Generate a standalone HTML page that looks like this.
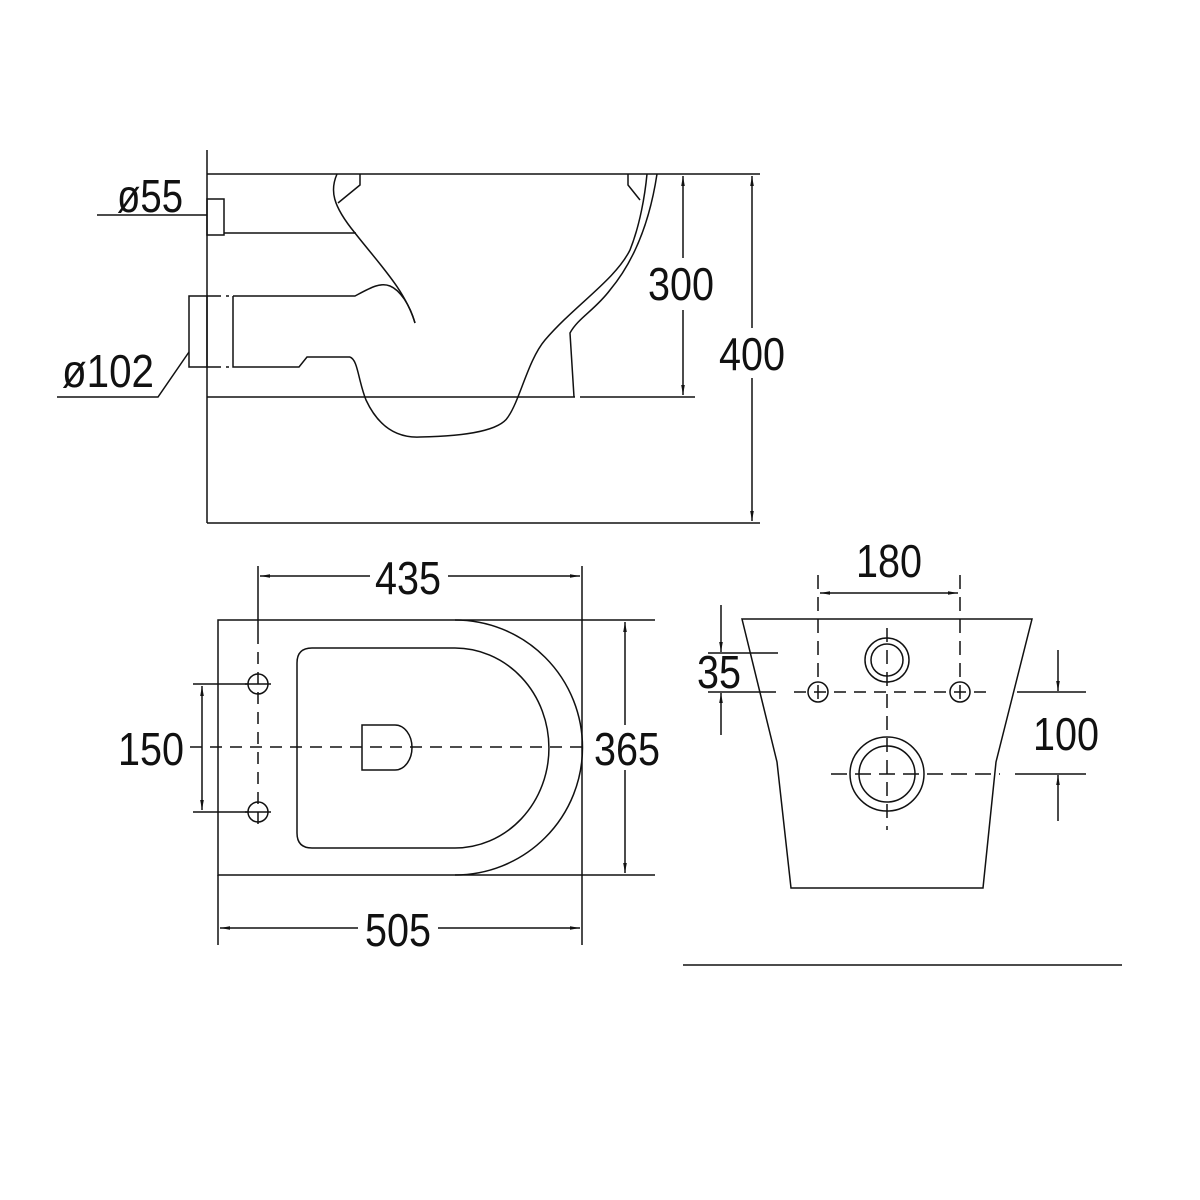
<!DOCTYPE html>
<html><head><style>html,body{margin:0;padding:0;background:#fff}svg{display:block}</style></head><body>
<svg width="1200" height="1200" viewBox="0 0 1200 1200" xmlns="http://www.w3.org/2000/svg">
<defs><marker id="a" viewBox="0 0 10 10" refX="10" refY="5" markerWidth="10" markerHeight="10" orient="auto-start-reverse" markerUnits="userSpaceOnUse"><path d="M0,3.2 L10,5 L0,6.8 Z" fill="#111"/></marker></defs>
<g fill="none" stroke="#111" stroke-width="1.5">
<line x1="207" y1="150" x2="207" y2="523"/>
<line x1="207" y1="174" x2="760" y2="174"/>
<line x1="207" y1="523" x2="760" y2="523"/>
<line x1="207" y1="397" x2="575" y2="397"/>
<line x1="580" y1="397" x2="695" y2="397"/>
<rect x="207" y="199" width="17" height="36"/>
<line x1="224" y1="233" x2="356" y2="233"/>
<line x1="97" y1="215" x2="207" y2="215"/>
<rect x="189" y="296" width="18" height="71"/>
<path d="M207,296 H233 M207,367 H233" stroke-dasharray="14,5,3,5"/>
<path d="M189,352 L158,397 H57"/>
<path d="M233,296 V367 H299 L307,357 H350"/>
<path d="M233,296 H355 C370,288 380,282 390,286 C400,290 410,305 415,323"/>
<path d="M337,174 C330,190 332,205 355,233 C380,265 405,290 415,323"/>
<path d="M360,174 V185 L338,203"/>
<path d="M628,174 V185 L640,200"/>
<path d="M350,357 C358,360 358,380 366,400 C380,430 400,438 420,437 C470,436 500,430 508,417 C520,400 528,360 545,340 C575,305 615,280 630,250 C640,225 645,195 647,174"/>
<path d="M657,174 C650,220 635,260 610,290 C595,310 578,318 570,333 L574,397"/>
<line x1="683" y1="176" x2="683" y2="258" marker-start="url(#a)"/>
<line x1="683" y1="310" x2="683" y2="395" marker-end="url(#a)"/>
<line x1="752" y1="176" x2="752" y2="328" marker-start="url(#a)"/>
<line x1="752" y1="378" x2="752" y2="521" marker-end="url(#a)"/>
<path d="M455,620 H218 V875 H455"/>
<path d="M455,620 H582 V875 H455"/>
<path d="M455,620 A127.5,127.5 0 0 1 455,875"/>
<path d="M312,648 H455 A94,100 0 0 1 455,848 H312 Q297,848 297,833 V663 Q297,648 312,648 Z"/>
<path d="M362,725 H395 A17,22.5 0 0 1 395,770 H362 Z"/>
<line x1="190" y1="747" x2="582" y2="747" stroke-dasharray="12,8"/>
<line x1="258" y1="632" x2="258" y2="832" stroke-dasharray="12,8"/>
<circle cx="258" cy="684" r="10"/><circle cx="258" cy="812" r="10"/>
<path d="M245,684 H271 M245,812 H271"/>
<line x1="258" y1="566" x2="258" y2="632"/>
<line x1="582" y1="566" x2="582" y2="620"/>
<line x1="260" y1="576" x2="370" y2="576" marker-start="url(#a)"/>
<line x1="448" y1="576" x2="580" y2="576" marker-end="url(#a)"/>
<line x1="193" y1="684" x2="248" y2="684"/>
<line x1="193" y1="812" x2="248" y2="812"/>
<line x1="202" y1="686" x2="202" y2="810" marker-start="url(#a)" marker-end="url(#a)"/>
<line x1="582" y1="620" x2="655" y2="620"/>
<line x1="582" y1="875" x2="655" y2="875"/>
<line x1="625" y1="622" x2="625" y2="725" marker-start="url(#a)"/>
<line x1="625" y1="770" x2="625" y2="873" marker-end="url(#a)"/>
<line x1="218" y1="875" x2="218" y2="945"/>
<line x1="582" y1="875" x2="582" y2="945"/>
<line x1="220" y1="928" x2="358" y2="928" marker-start="url(#a)"/>
<line x1="438" y1="928" x2="580" y2="928" marker-end="url(#a)"/>
<path d="M742,619 H1032 L996,762 L983,888 H791 L777,762 Z"/>
<circle cx="818" cy="692" r="10"/><circle cx="960" cy="692" r="10"/>
<circle cx="887" cy="660" r="22"/><circle cx="887" cy="660" r="16"/>
<circle cx="887" cy="774" r="37"/><circle cx="887" cy="774" r="28"/>
<line x1="794" y1="692" x2="990" y2="692" stroke-dasharray="12,8"/>
<line x1="831" y1="774" x2="1000" y2="774" stroke-dasharray="16,8"/>
<line x1="887" y1="628" x2="887" y2="830" stroke-dasharray="14,8"/>
<line x1="818" y1="575" x2="818" y2="700" stroke-dasharray="14,8"/>
<line x1="960" y1="575" x2="960" y2="700" stroke-dasharray="14,8"/>
<line x1="820" y1="593" x2="958" y2="593" marker-start="url(#a)" marker-end="url(#a)"/>
<line x1="708" y1="653" x2="778" y2="653"/>
<line x1="708" y1="692" x2="776" y2="692"/>
<line x1="721" y1="605" x2="721" y2="652" marker-end="url(#a)"/>
<line x1="721" y1="735" x2="721" y2="693" marker-end="url(#a)"/>
<line x1="1017" y1="692" x2="1086" y2="692"/>
<line x1="1015" y1="774" x2="1086" y2="774"/>
<line x1="1058" y1="650" x2="1058" y2="691" marker-end="url(#a)"/>
<line x1="1058" y1="821" x2="1058" y2="775" marker-end="url(#a)"/>
<line x1="683" y1="965" x2="1122" y2="965"/>
</g>
<g font-family="'Liberation Sans Narrow','Liberation Sans',sans-serif" font-size="46" fill="#111" text-anchor="middle">
<text x="150" y="212" textLength="66" lengthAdjust="spacingAndGlyphs">ø55</text>
<text x="108" y="387" textLength="92" lengthAdjust="spacingAndGlyphs">ø102</text>
<text x="681" y="300" textLength="66" lengthAdjust="spacingAndGlyphs">300</text>
<text x="752" y="370" textLength="66" lengthAdjust="spacingAndGlyphs">400</text>
<text x="408" y="594" textLength="66" lengthAdjust="spacingAndGlyphs">435</text>
<text x="151" y="765" textLength="66" lengthAdjust="spacingAndGlyphs">150</text>
<text x="627" y="765" textLength="66" lengthAdjust="spacingAndGlyphs">365</text>
<text x="398" y="946" textLength="66" lengthAdjust="spacingAndGlyphs">505</text>
<text x="889" y="577" textLength="66" lengthAdjust="spacingAndGlyphs">180</text>
<text x="719" y="688" textLength="44" lengthAdjust="spacingAndGlyphs">35</text>
<text x="1066" y="750" textLength="66" lengthAdjust="spacingAndGlyphs">100</text>
</g>
</svg>
</body></html>
